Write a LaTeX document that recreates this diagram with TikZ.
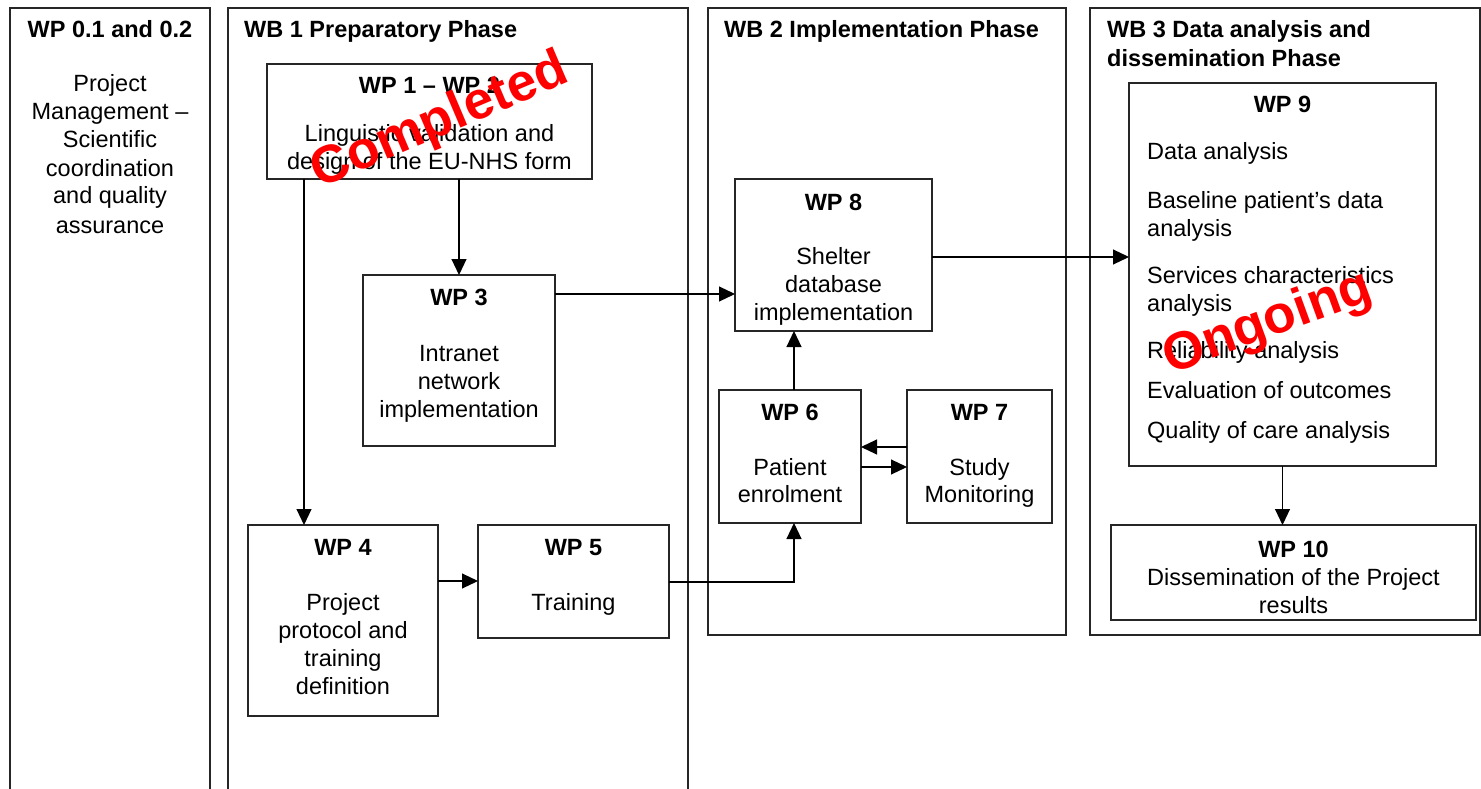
\documentclass[tikz,border=0pt]{standalone}
\usepackage{fontspec}
\setmainfont{Liberation Sans}
\usetikzlibrary{arrows.meta}
\newcounter{tn}
\newcommand\tline[3]{\stepcounter{tn}\node[txt] (t\thetn) at (#1,#2+8) {#3};}
\newcommand\tleft[3]{\stepcounter{tn}\node[txt,anchor=base west] (t\thetn) at (#1,#2+8) {#3};}
\newcommand\mkbox[6][box]{\node[#1, minimum width={(#5-#3)*1pt}, minimum height={(#6-#4)*1pt}] (#2) at ({(#3+#5)/2},{(#4+#6)/2}) {};}
\begin{document}
\begin{tikzpicture}[x=1pt,y=-1pt,
  box/.style={draw=black!85, line width=1.3pt, inner sep=0pt, outer sep=0pt},
  txt/.style={anchor=base, inner sep=0pt, font=\fontsize{23.5}{28}\selectfont},
  bt/.style={txt, font=\fontsize{23.5}{28}\selectfont\bfseries},
  arr/.style={line width=1.1pt, -{Triangle[length=16pt,width=15pt]}},
  stamp/.style={text=red, inner sep=0pt, font=\fontsize{53}{60}\selectfont\bfseries}]
\useasboundingbox[fill=white] (0,0) rectangle (1481,789);
% columns
\mkbox{col0}{10}{8}{210}{830}
\mkbox{col1}{228}{8}{688}{830}
\mkbox{col2}{708}{8}{1066}{635}
\mkbox{col3}{1090}{8}{1480}{635}
% column titles
\node[bt] (h0) at (110,38) {WP 0.1 and 0.2};
\node[bt,anchor=base west] (h1) at (244,38) {WB 1 Preparatory Phase};
\node[bt,anchor=base west] (h2) at (724,38) {WB 2 Implementation Phase};
\node[bt,anchor=base west] (h3a) at (1107,38) {WB 3 Data analysis and};
\node[bt,anchor=base west] (h3b) at (1107,67) {dissemination Phase};
% column 0 text
\tline{110}{84}{Project}
\tline{110}{112}{Management –}
\tline{110}{140}{Scientific}
\tline{110}{168}{coordination}
\tline{110}{196}{and quality}
\tline{110}{225}{assurance}
% boxes
\mkbox{wp12}{267}{64}{592}{179}
\mkbox{wp3}{363}{275}{555}{446}
\mkbox{wp4}{248}{525}{438}{716}
\mkbox{wp5}{478}{525}{669}{638}
\mkbox{wp8}{735}{179}{932}{331}
\mkbox{wp6}{719}{390}{861}{523}
\mkbox{wp7}{907}{390}{1052}{523}
\mkbox{wp9}{1129}{83}{1436}{466}
\mkbox{wp10}{1111}{525}{1476}{620}
% box texts
\node[bt] (l12) at (429.5,94) {WP 1 – WP 2};
\tline{429.5}{134}{Linguistic validation and}
\tline{429.5}{162}{design of the EU-NHS form}
\node[bt] (l3) at (459,305) {WP 3};
\tline{459}{353}{Intranet}
\tline{459}{381}{network}
\tline{459}{409}{implementation}
\node[bt] (l4) at (343,555) {WP 4};
\tline{343}{602}{Project}
\tline{343}{630}{protocol and}
\tline{343}{658}{training}
\tline{343}{686}{definition}
\node[bt] (l5) at (573.5,555) {WP 5};
\tline{573.5}{602}{Training}
\node[bt] (l8) at (833.5,210) {WP 8};
\tline{833.5}{256}{Shelter}
\tline{833.5}{284}{database}
\tline{833.5}{312}{implementation}
\node[bt] (l6) at (790,420) {WP 6};
\tline{790}{467}{Patient}
\tline{790}{494}{enrolment}
\node[bt] (l7) at (979.5,420) {WP 7};
\tline{979.5}{467}{Study}
\tline{979.5}{494}{Monitoring}
\node[bt] (l9) at (1282.5,113) {WP 9};
\tleft{1147}{152}{Data analysis}
\tleft{1147}{200}{Baseline patient’s data}
\tleft{1147}{228}{analysis}
\tleft{1147}{275}{Services characteristics}
\tleft{1147}{303}{analysis}
\tleft{1147}{350}{Reliability analysis}
\tleft{1147}{390}{Evaluation of outcomes}
\tleft{1147}{430}{Quality of care analysis}
\node[bt] (l10) at (1293.5,557) {WP 10};
\tline{1293.5}{577}{Dissemination of the Project}
\tline{1293.5}{605}{results}
% connector helper coordinates
\coordinate (c4) at (304,0);
\coordinate (c6) at (794,0);
\coordinate (y45) at (0,581);
\coordinate (y56) at (0,582);
\coordinate (y76) at (0,447);
\coordinate (y67) at (0,467);
\coordinate (y38) at (0,294);
\coordinate (y89) at (0,257);
% connectors
\draw[arr] (wp12.south -| wp3.north) -- (wp3.north);
\draw[arr] (wp12.south -| c4) -- (wp4.north -| c4);
\draw[arr] (wp4.east |- y45) -- (wp5.west |- y45);
\draw[arr] (wp5.east |- y56) -| (wp6.south -| c6);
\draw[arr] (wp6.north -| c6) -- (wp8.south -| c6);
\draw[arr] (wp7.west |- y76) -- (wp6.east |- y76);
\draw[arr] (wp6.east |- y67) -- (wp7.west |- y67);
\draw[arr] (wp3.east |- y38) -- (wp8.west |- y38);
\draw[arr] (wp8.east |- y89) -- (wp9.west |- y89);
\draw[arr] (wp9.south) -- (wp10.north -| wp9.south);
% stamps
\node[stamp, rotate=23] (s1) at (440,122) {Completed};
\node[stamp, rotate=20] (s2) at (1268,324) {Ongoing};
\end{tikzpicture}
\end{document}
